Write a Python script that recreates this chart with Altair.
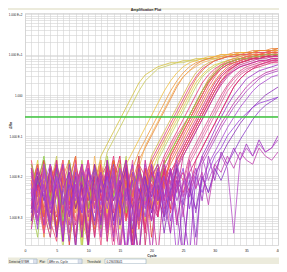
import altair as alt
import pandas as pd

# ---------------- data ----------------
cycles = list(range(1, 41))

# log10(delta Rn) x 10, cycle 1..40, one string per well
curve_logs = [
    "-21 -29 -16 -33 -24 -18 -36 -26 -19 -31 -22 -15 -12 -9 -6 -3 0 3 5 6 7 7.5 8 8 8.5 8.5 9 9 9 9 9.5 9.5 9.5 10 10 10 10 10.5 10.5 10.5",
    "-26 -18 -33 -22 -15 -30 -24 -37 -20 -28 -17 -21 -14 -11 -8 -5 -2 1 3.5 5 6.5 7 7.5 8 8 8.5 8.5 9 9 9 9 9.5 9.5 9.5 10 10 10 10 10.5 10.5",
    "-23 -31 -18 -27 -34 -20 -16 -29 -24 -37 -21 -17 -32 -25 -19 -30 -18 -14 -11 -8 -5 -2 1 3.5 5.5 7 8 8.5 9 9.5 9.5 10 10 10.5 10.5 10.5 11 11 11 11.5",
    "-30 -21 -35 -17 -25 -32 -22 -15 -33 -23 -28 -18 -36 -24 -16 -31 -21 -16 -13 -10 -7 -4 -1 2 4.5 6 7.5 8.5 9 9.5 10 10 10.5 10.5 10.5 11 11 11 11.5 11.5",
    "-17 -24 -32 -20 -29 -16 -35 -27 -21 -31 -15 -26 -19 -34 -23 -17 -28 -18 -12.5 -9.5 -6.5 -3.5 -0.5 2.5 4.5 6 7 8 8.5 9 9.5 9.5 10 10 10 10.5 10.5 10.5 11 11",
    "-24 -16 -29 -35 -19 -26 -31 -17 -37 -23 -20 -30 -16 -25 -33 -21 -27 -15 -31 -19 -15 -12 -9 -6 -3 0 3 5 6.5 7.5 8 8.5 9 9 9.5 9.5 10 10 10 10.5",
    "-32 -22 -18 -30 -24 -38 -20 -28 -16 -25 -34 -21 -17 -31 -23 -15 -36 -26 -18 -28 -16 -13 -10 -7 -4 -1 2 4.5 6 7 8 8.5 9 9 9.5 9.5 10 10 10 10",
    "-19 -27 -21 -33 -16 -28 -23 -18 -31 -36 -24 -17 -27 -21 -32 -16 -25 -19 -22 -15 -12 -9 -6 -3 0 3 5.5 7 8 8.5 9 9.5 9.5 10 10 10.5 10.5 10.5 11 11",
    "-27 -35 -20 -24 -17 -32 -26 -21 -39 -18 -25 -31 -15 -23 -29 -20 -34 -17 -24 -21 -24 -17 -14 -11 -8 -5 -2 1 3.5 5 6.5 7.5 8 8.5 9 9 9.5 9.5 9.5 10",
    "-21 -31 -16 -25 -33 -19 -24 -37 -20 -28 -17 -32 -23 -15 -27 -40 -21 -30 -18 -25 -19 -15 -12 -9 -6 -3 0 3 5 6.5 7.5 8 8.5 9 9 9.5 9.5 10 10 10",
    "-28 -20 -34 -24 -17 -30 -21 -32 -25 -16 -35 -23 -18 -28 -40 -24 -17 -31 -21 -27 -30 -19 -15 -12 -9 -6 -3 0 3 5 6.5 7.5 8 8.5 9 9 9.5 9.5 10 10",
    "-16 -25 -21 -31 -36 -20 -27 -17 -24 -33 -20 -28 -16 -34 -24 -18 -29 -40 -22 -17 -26 -21 -16 -13 -10 -7 -4 -1 2 4.5 6.5 7.5 8.5 9 9.5 9.5 10 10 10.5 10.5",
    "-31 -22 -18 -27 -21 -34 -16 -28 -23 -38 -18 -25 -32 -21 -15 -30 -24 -19 -33 -17 -25 -30 -19 -16 -13 -10 -7 -4 -1 2 4.5 6 7 8 8.5 9 9 9.5 9.5 10",
    "-24 -17 -29 -35 -20 -25 -32 -18 -22 -16 -28 -21 -36 -18 -25 -17 -40 -27 -21 -31 -22 -16 -26 -18 -14 -11 -8 -5 -2 1 3.5 5 6 7 7.5 8 8.5 8.5 9 9",
    "-20 -26 -33 -17 -23 -29 -21 -15 -32 -25 -22 -16 -30 -24 -19 -28 -34 -18 -25 -21 -17 -23 -15 -12 -9 -6 -3 0 3 5.5 7 8 8.5 9 9.5 10 10 10.5 10.5 11",
    "-26 -32 -19 -23 -16 -30 -24 -36 -18 -21 -29 -17 -25 -39 -21 -27 -16 -33 -23 -19 -28 -21 -34 -18 -25 -17 -14 -11 -8 -5 -2 1 3 5 6 7 7.5 8 8.5 8.5",
    "-18 -23 -28 -21 -33 -17 -26 -22 -31 -19 -24 -35 -17 -22 -29 -19 -26 -15 -37 -23 -18 -28 -22 -15 -12 -9 -6 -3 0 3 5 6.5 7.5 8 8.5 9 9 9.5 9.5 9.5",
    "-22 -17 -26 -32 -20 -28 -18 -23 -35 -16 -26 -21 -31 -18 -23 -40 -19 -28 -22 -17 -25 -16 -13 -10 -7.5 -5 -2 1 3.5 5.5 7 8 8.5 9 9 9.5 9.5 10 10 10",
    "-28 -21 -16 -24 -30 -19 -37 -23 -17 -28 -20 -32 -24 -16 -22 -31 -19 -26 -18 -35 -23 -19 -28 -17 -14 -11 -8 -5 -2 1 3.5 5.5 7 8 8.5 9 9.5 9.5 10 10",
    "-17 -24 -22 -33 -18 -26 -29 -19 -24 -38 -22 -16 -28 -21 -32 -23 -17 -29 -24 -40 -19 -26 -21 -31 -22 -16 -13 -10 -7 -4 -1 2 4 5.5 6.5 7 7.5 8 8 8.5",
    "-33 -23 -18 -29 -22 -17 -27 -20 -32 -24 -19 -29 -23 -36 -18 -25 -21 -31 -16 -26 -40 -22 -18 -24 -15 -12 -9 -6 -3 0 2.5 4.5 6 7 7.5 8 8.5 8.5 9 9",
    "-21 -29 -24 -18 -34 -23 -16 -31 -22 -19 -32 -17 -26 -22 -29 -18 -24 -33 -20 -28 -19 -23 -15 -12 -9 -6 -3 0 3 5 7 8 8.5 9 9.5 10 10 10.5 10.5 10.5",
    "-24 -19 -30 -23 -17 -36 -21 -26 -18 -29 -23 -33 -19 -24 -17 -28 -22 -32 -26 -18 -30 -21 -25 -18 -21 -15 -12 -9 -6 -3 0 2.5 4.5 6 7 7.5 8 8.5 8.5 9",
    "-18 -31 -22 -26 -16 -32 -24 -19 -28 -23 -35 -20 -17 -29 -23 -18 -26 -40 -22 -19 -25 -17 -22 -16 -13 -10 -7 -4 -1 2 4.5 6 7 8 8.5 9 9 9.5 9.5 10",
    "-23 -18 -28 -33 -22 -16 -26 -20 -31 -24 -17 -22 -29 -19 -37 -23 -18 -28 -21 -16 -22 -17 -14 -11 -8 -5 -2 1 4 6 7.5 8.5 9 9.5 10 10 10.5 10.5 11 11",
    "-29 -22 -17 -24 -32 -20 -28 -18 -23 -35 -21 -26 -18 -31 -22 -16 -28 -23 -34 -19 -26 -18 -29 -22 -19 -24 -16 -13 -10 -7 -4 -1 2 4 5.5 6.5 7 7.5 8 8",
    "-22 -28 -19 -32 -24 -17 -30 -23 -20 -34 -18 -24 -31 -20 -26 -19 -36 -17 -27 -22 -29 -20 -26 -18 -15 -12 -9 -6 -3 0 3 5 6.5 7.5 8 8.5 9 9 9.5 9.5",
    "-25 -18 -30 -22 -35 -19 -27 -16 -32 -21 -26 -17 -33 -20 -28 -18 -24 -17 -20 -16 -13 -10 -7 -4 -1 2 4.5 6.5 7.5 8.5 9 9.5 9.5 10 10 10.5 10.5 10.5 11 11",
    "-20 -28 -17 -33 -23 -19 -36 -25 -18 -30 -22 -16 -29 -21 -26 -17 -14 -11 -8 -5 -2 1 3.5 5.5 7 8 8.5 9 9.5 9.5 10 10 10 10.5 10.5 10.5 11 11 11 11",
    "-27 -20 -32 -17 -24 -29 -19 -35 -22 -26 -18 -31 -23 -16 -28 -21 -37 -19 -25 -22 -30 -18 -26 -21 -24 -19 -16 -13 -10 -7 -4 -1 2 4 5.5 6.5 7.5 8 8.5 8.5",
    "-19 -25 -30 -21 -17 -34 -23 -28 -18 -24 -33 -20 -26 -16 -29 -22 -19 -31 -24 -18 -27 -21 -17 -14 -11 -8 -5 -2 1 3.5 5.5 7 8 8.5 9 9.5 10 10 10.5 10.5",
    "-21 -27 -34 -19 -24 -16 -30 -22 -28 -18 -25 -37 -20 -23 -17 -31 -24 -19 -27 -22 -18 -26 -19 -16 -13 -10 -7 -4 -1 2 4.5 6 7.5 8.5 9 9.5 9.5 10 10 10.5",
    "-23 -17 -29 -24 -32 -20 -26 -18 -35 -22 -27 -19 -24 -16 -30 -21 -25 -18 -23 -17 -14 -11 -8 -5 -2 1 4 6 7.5 8.5 9 9.5 10 10 10.5 10.5 11 11 11 11.5",
    "-17 -22 -15 -26 -19 -31 -16 -24 -20 -28 -18 -33 -21 -25 -17 -29 -22 -19 -26 -20 -23 -17 -14 -11 -8 -5 -2 1 3.5 5.5 7 8 8.5 9 9 9.5 9.5 10 10 10",
    "-24 -31 -18 -27 -22 -36 -20 -25 -17 -30 -23 -19 -34 -21 -27 -17 -40 -24 -20 -29 -22 -26 -18 -32 -21 -25 -19 -16 -13 -10 -7 -4.5 -2 0 2 3.5 4.5 5.5 6 6.5",
    "-26 -18 -23 -31 -20 -36 -17 -24 -29 -19 -22 -32 -16 -26 -21 -40 -28 -18 -23 -31 -19 -26 -34 -21 -28 -40 -20 -15 -12 -8.5 -5.5 -2.5 0 2 4 5 6 6.5 7 7.5",
    "-19 -29 -22 -17 -28 -34 -20 -26 -18 -23 -32 -21 -28 -19 -38 -24 -17 -30 -22 -26 -18 -31 -23 -40 -26 -19 -29 -21 -17 -14 -11 -8 -5.5 -3 -1 1 2.5 3.5 4.5 5",
    "-31 -20 -26 -18 -35 -23 -19 -28 -22 -37 -17 -24 -20 -31 -23 -18 -40 -26 -20 -29 -22 -34 -24 -18 -40 -23 -28 -20 -24 -19 -15 -12 -9.5 -7 -5 -3 -1.5 0 1 2",
    "-20 -24 -32 -19 -23 -17 -29 -22 -26 -18 -28 -19 -23 -35 -18 -26 -21 -31 -17 -24 -20 -29 -18 -26 -22 -19 -40 -17 -14 -11 -8 -5.5 -3 -1 1 2.5 4 5 5.5 6",
    "-23 -33 -17 -28 -20 -25 -36 -19 -29 -22 -18 -27 -20 -32 -24 -40 -19 -23 -30 -17 -26 -20 -31 -23 -18 -28 -20 -24 -19 -15 -13 -10 -8 -6 -4.5 -3 -2 -1.5 -1 -0.5",
    "-29 -21 -25 -33 -18 -27 -22 -38 -19 -24 -31 -20 -26 -17 -32 -23 -28 -40 -21 -25 -19 -30 -23 -17 -27 -21 -35 -20 -24 -18 -21 -17 -14 -11 -8.5 -6 -4 -2.5 -1.5 -0.5",
    "-28 -19 -24 -32 -17 -23 -30 -20 -35 -18 -24 -31 -19 -26 -22 -16 -33 -23 -28 -20 -17 -25 -19 -29 -40 -23 -18 -26 -15 -21 -14 -17 -13 -16 -12 -15 -11 -14 -13 -10",
    "-22 -31 -18 -27 -20 -34 -24 -17 -28 -23 -19 -35 -21 -28 -18 -24 -31 -19 -26 -40 -20 -27 -22 -16 -25 -19 -23 -15 -21 -17 -15 -18 -34 -16 -13 -15 -12 -14 -13 -11",
    "-18 -27 -22 -31 -24 -19 -34 -23 -17 -29 -25 -20 -33 -18 -27 -23 -40 -19 -24 -31 -21 -17 -26 -20 -30 -16 -23 -19 -27 -17 -19 -15 -18 -14 -16 -17 -13 -15 -16 -14",
]

curve_colors = [
    "#d4c23c", "#c9c95a",
    "#f09a3c", "#e8863a", "#f5b45a",
    "#e2d040", "#bcd05a", "#d8b044", "#a8cc50",
    "#e8307a", "#d82890", "#f04a6a", "#e02050", "#c82ca0", "#f07040",
    "#e85a9a", "#d03070", "#f0507f", "#e83c3c", "#e0609f", "#cc2288",
    "#f26a5a", "#e04888", "#d4387c", "#f08850", "#e02870", "#c83890",
    "#e8407a", "#f0c040", "#d82a7a", "#ee6a30", "#f25a88", "#e87838", "#8ccc44",
    "#c030a8",
    "#9b30c8", "#a848d0", "#8a2cb8", "#b040c0", "#9a40d8", "#8c3cc8",
    "#a030c0", "#b850c8", "#c040b0",
]

threshold = [0.29033641]
x_ticks = list(range(0, 41))
y_decades = [100, 10, 1, 0.1, 0.01, 0.001]
y_decade_labels = ["1.000 E+2", "1.000 E+1", "1.000", "1.000 E-1", "1.000 E-2", "1.000 E-3"]
y_domain = [2.04e-4, 105.9]

control_texts = ["Detector:", "SYBR", "Plot:", "\u0394Rn vs. Cycle", "Threshold:", "0.29033641"]

# ---------------- build table ----------------
rows = []
wells = []
for i, s in enumerate(curve_logs):
    vals = [float(t) for t in s.split()]
    if len(vals) != len(cycles):
        raise ValueError(f"curve {i} has {len(vals)} values")
    w = f"w{i:02d}"
    wells.append(w)
    for c, v in zip(cycles, vals):
        rows.append({"well": w, "cycle": c, "drn": 10 ** (v / 10.0)})
df = pd.DataFrame(rows)

minor = []
for e in range(-4, 3):
    for k in range(1, 10):
        v = k * 10.0 ** e
        if y_domain[0] <= v <= y_domain[1]:
            minor.append(v)

label_expr = "''"
for d, lab in zip(y_decades, y_decade_labels):
    label_expr = f"abs(datum.value / {d} - 1) < 0.001 ? '{lab}' : ({label_expr})"

FONT = "Liberation Sans"
GRID = "#d2d2d2"
BEIGE = "#ecebdc"

x_enc = alt.X(
    "cycle:Q",
    scale=alt.Scale(domain=[0, 40], nice=False, zero=False),
    axis=alt.Axis(
        values=x_ticks, labelExpr="datum.value % 5 === 0 ? datum.label : ''",
        grid=True, gridColor=GRID, gridWidth=0.6, ticks=False, domain=False,
        labelFontSize=3.5, labelPadding=3, labelFlush=False, labelOverlap=False,
        labelColor="#222222", title="Cycle", titleFontSize=3.5, titlePadding=2,
        titleFontWeight="bold", titleColor="#222222", labelFont=FONT, titleFont=FONT,
    ),
)
y_enc = alt.Y(
    "drn:Q",
    scale=alt.Scale(type="log", domain=y_domain, nice=False),
    axis=alt.Axis(
        values=minor, labelExpr=label_expr, grid=True, gridColor=GRID, gridWidth=0.6,
        ticks=False, domain=False, labelFontSize=3, labelPadding=3, labelOverlap=False,
        labelFlush=False, labelColor="#222222", title="\u0394Rn", titleFontSize=3.5,
        titleX=-13, titleY=112, titleAngle=270, titleColor="#222222",
        labelFont=FONT, titleFont=FONT,
    ),
)

lines = alt.Chart(df).mark_line(strokeWidth=0.8, clip=True).encode(
    x=x_enc, y=y_enc,
    color=alt.Color("well:N", scale=alt.Scale(domain=wells, range=curve_colors), legend=None),
)

thr = alt.Chart(pd.DataFrame({"drn": threshold})).mark_rule(
    color="#3cc43c", strokeWidth=1.6
).encode(y=alt.Y("drn:Q"))

one = pd.DataFrame({"k": [0]})

title = alt.Chart(one).mark_text(
    text="Amplification Plot", fontSize=3.6, fontWeight="bold", font=FONT,
    baseline="bottom", align="center", color="#222222"
).encode(x=alt.value(121), y=alt.value(-0.6))

bar = alt.Chart(one).mark_rect(color=BEIGE).encode(
    x=alt.value(-17), x2=alt.value(254), y=alt.value(244.6), y2=alt.value(251)
)
topbar = alt.Chart(one).mark_rect(color=BEIGE).encode(
    x=alt.value(-17), x2=alt.value(254), y=alt.value(-5), y2=alt.value(-3)
)

boxes_df = pd.DataFrame({"x0": [-5, 23, 80], "x1": [12, 57, 121]})
boxes = alt.Chart(boxes_df).mark_rect(fill="white", stroke="#7f9db9", strokeWidth=0.5).encode(
    x=alt.X("x0:Q", scale=None), x2="x1:Q", y=alt.value(246), y2=alt.value(250.8)
)
btn_df = pd.DataFrame({"x0": [8.5, 53], "x1": [11.6, 56.6]})
btns = alt.Chart(btn_df).mark_rect(fill="#dde3ee", stroke="#9aa8c0", strokeWidth=0.3).encode(
    x=alt.X("x0:Q", scale=None), x2="x1:Q", y=alt.value(246.5), y2=alt.value(250.3)
)
ctl_df = pd.DataFrame({"t": control_texts, "px": [-16, -4, 14.5, 24, 62, 81.5]})
ctl = alt.Chart(ctl_df).mark_text(
    fontSize=3, font=FONT, align="left", baseline="middle", color="#222222"
).encode(x=alt.X("px:Q", scale=None), y=alt.value(248.5), text="t:N")

chart = alt.layer(topbar, bar, lines, thr, title, boxes, btns, ctl).properties(
    width=253, height=232,
    padding={"left": 17, "top": 5, "right": 1, "bottom": 19},
    autosize=alt.AutoSizeParams(type="none"),
    background="white",
).configure_view(stroke="#8c8c8c", strokeWidth=1, fill="white").configure(font=FONT)

chart.save("out.html", embed_options={"renderer": "svg", "actions": False})
